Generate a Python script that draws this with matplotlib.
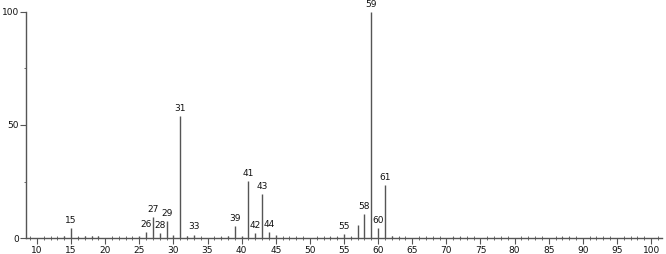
import matplotlib
matplotlib.use("Agg")
import matplotlib.pyplot as plt
from matplotlib.ticker import MultipleLocator

mz = [14, 15, 16, 17, 18, 19, 25, 26, 27, 28, 29, 30, 31, 32, 33, 37, 38, 39, 40, 41, 42, 43, 44, 45,
      53, 54, 55, 56, 57, 58, 59, 60, 61, 62, 63, 71, 72, 87, 88]
intensity = [1.0, 4.4, 0.6, 0.8, 1.0, 0.8, 0.8, 2.7, 9.3, 2.0, 7.5, 1.5, 54.0, 1.0, 1.5, 0.6, 0.8, 5.3, 1.0, 25.2, 2.2, 19.5, 2.7, 1.5,
             0.5, 0.6, 1.8, 0.5, 5.8, 10.6, 100.0, 4.4, 23.4, 0.8, 0.5, 0.5, 0.5, 0.5, 0.5]
labelled = [15, 26, 27, 28, 29, 31, 33, 39, 41, 42, 43, 44, 55, 58, 59, 60, 61]

fig = plt.figure(figsize=(6.66, 2.54), dpi=100)
ax = fig.add_axes([26/666, 1-238/254, (662-26)/666, (238-12)/254])
ax.vlines(mz, 0, intensity, color="#555555", linewidth=1.0)
for m, v in zip(mz, intensity):
    if m in labelled:
        ax.text(m, v + 1.5, str(m), ha="center", va="bottom", fontsize=6.5, color="#111111", clip_on=False)

ax.set_xlim(8.4, 101.6)
ax.set_ylim(0, 100)
ax.xaxis.set_major_locator(MultipleLocator(5))
ax.xaxis.set_minor_locator(MultipleLocator(1))
ax.yaxis.set_major_locator(MultipleLocator(50))
ax.yaxis.set_minor_locator(MultipleLocator(25))
ax.tick_params(axis="x", which="major", direction="out", length=4, width=0.8, colors="#555555", labelcolor="#111111", labelsize=6.5, pad=1.5)
ax.tick_params(axis="x", which="minor", direction="inout", length=3, width=0.6, colors="#555555")
ax.tick_params(axis="y", which="major", direction="out", length=4, width=0.8, colors="#555555", labelcolor="#111111", labelsize=6.5, pad=1)
ax.tick_params(axis="y", which="minor", direction="out", length=1.5, width=0.6, colors="#555555")
for s in ["top", "right"]:
    ax.spines[s].set_visible(False)
for s in ["left", "bottom"]:
    ax.spines[s].set_color("#555555")
    ax.spines[s].set_linewidth(1.0)
fig.savefig("out.png", dpi=100)
